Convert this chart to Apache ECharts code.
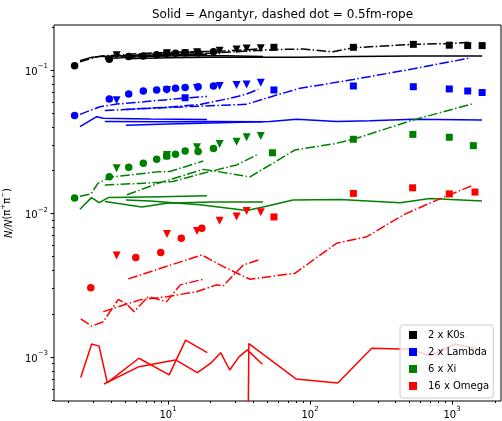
<!DOCTYPE html>
<html>
<head>
<meta charset="utf-8">
<script src="https://cdn.jsdelivr.net/npm/echarts@6.0.0/dist/echarts.min.js"></script>
<style>
  html, body { margin: 0; padding: 0; background: #fff; }
  #chart { width: 502px; height: 421px; }
</style>
</head>
<body>
<div id="chart"></div>
<script>
// axis limits and ticks (raw units, both axes are log10)
const xLimits = [1.575, 2213];
const yLimits = [4.93e-4, 0.206];
const xMajorTicks = [10, 100, 1000];
const yMajorTicks = [0.001, 0.01, 0.1];

const legendNames = ['2 x K0s', '2 x Lambda', '6 x Xi', '16 x Omega'];

// marker x positions
const circleX = [2.2, 3.86, 5.29, 6.70, 8.32, 9.79, 11.3, 13.2, 16.3, 20.9];
const omegaCircleX = [2.86, 5.93, 8.89, 12.4, 17.3];
const triangleX = [4.35, 9.84, 16.0, 23.1, 30.4, 35.8, 45.0];
const squareX = [13.2, 55.7, 202, 534, 957, 1290, 1630];
const xiSquareX = [9.8, 54.4, 202, 530, 957, 1413];
const omegaSquareX = [55.7, 202, 528, 957, 1452];

// K0s (black)
const kCircleY = [0.107, 0.119, 0.124, 0.125, 0.128, 0.131, 0.131, 0.132, 0.132, 0.134];
const kTriangleY = [0.127, 0.131, 0.133, 0.136, 0.139, 0.141, 0.142];
const kSquareY = [0.132, 0.144, 0.144, 0.151, 0.149, 0.148, 0.148];
const kSolidPpX = [2.40, 2.92, 3.32, 5.40, 8.79, 18.8];
const kSolidPpY = [0.116, 0.123, 0.124, 0.126, 0.128, 0.129];
const kSolidPpbX = [3.59, 6.5, 12, 25, 46.7];
const kSolidPpbY = [0.120, 0.124, 0.126, 0.126, 0.124];
const kSolidPbpbX = [5.06, 10, 20, 46.7, 85, 200, 530, 1630];
const kSolidPbpbY = [0.120, 0.122, 0.123, 0.123, 0.123, 0.124, 0.125, 0.125];
const kRopePpX = [2.40, 2.92, 3.32, 5.4, 8.79, 18.8];
const kRopePpY = [0.114, 0.121, 0.125, 0.129, 0.132, 0.135];
const kRopePpbX = [3.59, 6.5, 12, 25, 43.3];
const kRopePpbY = [0.123, 0.128, 0.132, 0.136, 0.140];
const kRopePbpbX = [5.06, 10, 20, 37.8, 58.2, 89.3, 145, 202, 534, 968, 1325];
const kRopePbpbY = [0.123, 0.127, 0.131, 0.136, 0.139, 0.140, 0.134, 0.143, 0.151, 0.153, 0.156];

// Lambda (blue)
const lCircleY = [0.0481, 0.0628, 0.0680, 0.0714, 0.0726, 0.0734, 0.0746, 0.0754, 0.0765, 0.0774];
const lTriangleY = [0.0615, 0.0726, 0.0750, 0.0774, 0.0786, 0.0794, 0.0815];
const lSquareY = [0.0641, 0.0726, 0.0774, 0.0765, 0.0738, 0.0714, 0.0697];
const lSolidPpX = [2.40, 3.15, 3.50, 7.47, 18.8];
const lSolidPpY = [0.0403, 0.0473, 0.0461, 0.0456, 0.0452];
const lSolidPpbX = [3.59, 8, 20, 46.7];
const lSolidPpbY = [0.0438, 0.0436, 0.0437, 0.0436];
const lSolidPbpbX = [5.06, 10, 20, 52.3, 80.5, 154, 265, 534, 1626];
const lSolidPbpbY = [0.0412, 0.0421, 0.0427, 0.0437, 0.0453, 0.0437, 0.0443, 0.0453, 0.0449];
const lRopePpX = [2.40, 3.32, 4.38, 6.78, 10.5, 18.8];
const lRopePpY = [0.0491, 0.0555, 0.0579, 0.0601, 0.0625, 0.0654];
const lRopePpbX = [3.59, 9.79, 16.8, 27.4, 35.8, 43.3];
const lRopePpbY = [0.0522, 0.0550, 0.0575, 0.0635, 0.0680, 0.0734];
const lRopePbpbX = [5.06, 13.6, 35.8, 58.2, 85.1, 202, 534, 1325];
const lRopePbpbY = [0.0531, 0.0555, 0.0577, 0.0670, 0.0746, 0.0859, 0.102, 0.121];

// Xi (green)
const xCircleY = [0.0128, 0.0180, 0.0210, 0.0224, 0.0239, 0.0252, 0.0259, 0.0273, 0.0270, 0.0284];
const xTriangleY = [0.0207, 0.0256, 0.0289, 0.0305, 0.0316, 0.0340, 0.0347];
const xSquareY = [0.0252, 0.0265, 0.0329, 0.0356, 0.0340, 0.0297];
const xSolidPpX = [2.40, 2.89, 3.28, 3.80, 5.40, 8.79, 13.2, 18.8];
const xSolidPpY = [0.0107, 0.0129, 0.0119, 0.0129, 0.0130, 0.0131, 0.0132, 0.0133];
const xSolidPpbX = [3.59, 6.53, 9.79, 20, 46.7];
const xSolidPpbY = [0.0121, 0.0111, 0.0118, 0.0120, 0.0120];
const xSolidPbpbX = [5.06, 7.47, 16.8, 35.9, 46.7, 75.9, 163, 431, 700, 1626];
const xSolidPbpbY = [0.0124, 0.0122, 0.0115, 0.0105, 0.0111, 0.0124, 0.0125, 0.0119, 0.0127, 0.0122];
const xRopePpX = [2.40, 2.87, 3.21, 3.91, 8.37, 10.3, 17.7];
const xRopePpY = [0.0132, 0.0137, 0.0162, 0.0179, 0.0195, 0.0196, 0.0232];
const xRopePpbX = [3.59, 6.35, 10.8, 17.7, 30.5, 42.1];
const xRopePpbY = [0.0158, 0.0162, 0.0167, 0.0191, 0.0218, 0.0256];
const xRopePbpbX = [5.14, 8.79, 17.7, 23.2, 37.8, 78.3, 145, 202, 534, 1377];
const xRopePbpbY = [0.0135, 0.0164, 0.0203, 0.0195, 0.0180, 0.0277, 0.0305, 0.0329, 0.0449, 0.0579];

// Omega (red)
const oCircleY = [0.00304, 0.00493, 0.00535, 0.00671, 0.00789];
const oTriangleY = [0.00510, 0.00718, 0.00755, 0.00890, 0.00951, 0.0104, 0.0102];
const oSquareY = [0.00946, 0.0138, 0.0151, 0.0137, 0.0141];
const oSolidPpX = [2.43, 2.90, 3.27, 3.74, 6.25, 10.2, 13.3, 18.9];
const oSolidPpY = [0.000718, 0.00123, 0.00119, 0.000662, 0.000979, 0.000749, 0.00131, 0.00107];
const oSolidPpbX = [3.54, 6.25, 11.3, 16.1, 20.0, 23.5, 27.2, 31.6, 36.2, 46.2];
const oSolidPpbY = [0.000648, 0.000855, 0.000953, 0.000777, 0.000904, 0.00107, 0.000811, 0.00100, 0.00112, 0.000889];
const oSolidPbpbX = [30.5, 37.1, 79.6, 157, 272, 506, 700, 1050, 1626];
const oSolidPbpbY = [0, 0.00124, 0.000703, 0.000659, 0.00115, 0.00113, 0.00102, 0.00123, 0.00112];
const oRopePpX = [2.43, 2.90, 3.50, 4.47, 5.12, 5.77, 7.26, 9.79, 12.2, 17.7];
const oRopePpY = [0.00184, 0.00164, 0.00176, 0.00252, 0.00233, 0.00207, 0.00263, 0.00243, 0.00318, 0.00348];
const oRopePpbX = [3.50, 6.35, 9.79, 15.9, 22.0, 24.5, 33.9, 43.3];
const oRopePpbY = [0.00207, 0.00250, 0.00263, 0.00285, 0.00318, 0.00313, 0.00438, 0.00474];
const oRopePbpbX = [5.25, 17.3, 24.5, 37.8, 78.3, 154, 251, 454, 738, 1377];
const oRopePbpbY = [0.00350, 0.00514, 0.00426, 0.00348, 0.00383, 0.00620, 0.00689, 0.00977, 0.0121, 0.0156];

const FONT = 'DejaVu Sans';
const BLACK = '#000000', BLUE = '#0000ff', GREEN = '#008000', RED = '#ff0000';
const DASHDOT = [9.6, 2.4, 1.5, 2.4];

// zero values are clipped far below the axis, like matplotlib does on log axes
const lg = v => Math.log10(Math.max(v, 1e-12));
const pairs = (xs, ys) => xs.map((x, i) => [lg(x), lg(ys[i])]);

function minorTicks(lo, hi) {
  const out = [];
  for (let d = Math.floor(Math.log10(lo)); d <= Math.ceil(Math.log10(hi)); d++) {
    for (let k = 2; k <= 9; k++) {
      const v = k * Math.pow(10, d);
      if (v >= lo && v <= hi) out.push(Math.log10(v));
    }
  }
  return out;
}

function powerLabel(v) {
  const e = Math.round(v);
  return '{b|10}{s|' + (e < 0 ? '\u2212' + (-e) : e) + '}';
}

const labelRich = {
  b: { fontFamily: FONT, fontSize: 10, color: '#000', lineHeight: 14, verticalAlign: 'bottom' },
  s: { fontFamily: FONT, fontSize: 7, color: '#000', lineHeight: 8, verticalAlign: 'top' }
};

const series = [];

function addLine(xs, ys, color, dashed) {
  series.push({
    type: 'line',
    data: pairs(xs, ys),
    symbol: 'none',
    silent: true,
    z: 2,
    clip: true,
    lineStyle: { color: color, width: 1.5, type: dashed ? DASHDOT : 'solid' },
    emphasis: { disabled: true }
  });
}

function addMarkers(name, xs, ys, color, kind) {
  const s = {
    name: name,
    type: 'scatter',
    data: pairs(xs, ys),
    silent: true,
    z: 3,
    itemStyle: { color: color, opacity: 1 },
    emphasis: { disabled: true }
  };
  if (kind === 'circle') { s.symbol = 'circle'; s.symbolSize = 7.5; }
  if (kind === 'down') { s.symbol = 'triangle'; s.symbolSize = 8; s.symbolRotate = 180; }
  if (kind === 'square') { s.symbol = 'rect'; s.symbolSize = 7; }
  series.push(s);
}

// Angantyr (solid)
addLine(kSolidPpX, kSolidPpY, BLACK, false);
addLine(kSolidPpbX, kSolidPpbY, BLACK, false);
addLine(kSolidPbpbX, kSolidPbpbY, BLACK, false);
addLine(lSolidPpX, lSolidPpY, BLUE, false);
addLine(lSolidPpbX, lSolidPpbY, BLUE, false);
addLine(lSolidPbpbX, lSolidPbpbY, BLUE, false);
addLine(xSolidPpX, xSolidPpY, GREEN, false);
addLine(xSolidPpbX, xSolidPpbY, GREEN, false);
addLine(xSolidPbpbX, xSolidPbpbY, GREEN, false);
addLine(oSolidPpX, oSolidPpY, RED, false);
addLine(oSolidPpbX, oSolidPpbY, RED, false);
addLine(oSolidPbpbX, oSolidPbpbY, RED, false);

// 0.5fm rope (dash dot)
addLine(kRopePpX, kRopePpY, BLACK, true);
addLine(kRopePpbX, kRopePpbY, BLACK, true);
addLine(kRopePbpbX, kRopePbpbY, BLACK, true);
addLine(lRopePpX, lRopePpY, BLUE, true);
addLine(lRopePpbX, lRopePpbY, BLUE, true);
addLine(lRopePbpbX, lRopePbpbY, BLUE, true);
addLine(xRopePpX, xRopePpY, GREEN, true);
addLine(xRopePpbX, xRopePpbY, GREEN, true);
addLine(xRopePbpbX, xRopePbpbY, GREEN, true);
addLine(oRopePpX, oRopePpY, RED, true);
addLine(oRopePpbX, oRopePpbY, RED, true);
addLine(oRopePbpbX, oRopePbpbY, RED, true);

// data points
addMarkers('k-pp', circleX, kCircleY, BLACK, 'circle');
addMarkers('k-ppb', triangleX, kTriangleY, BLACK, 'down');
addMarkers(legendNames[0], squareX, kSquareY, BLACK, 'square');
addMarkers('l-pp', circleX, lCircleY, BLUE, 'circle');
addMarkers('l-ppb', triangleX, lTriangleY, BLUE, 'down');
addMarkers(legendNames[1], squareX, lSquareY, BLUE, 'square');
addMarkers('x-pp', circleX, xCircleY, GREEN, 'circle');
addMarkers('x-ppb', triangleX, xTriangleY, GREEN, 'down');
addMarkers(legendNames[2], xiSquareX, xSquareY, GREEN, 'square');
addMarkers('o-pp', omegaCircleX, oCircleY, RED, 'circle');
addMarkers('o-ppb', triangleX, oTriangleY, RED, 'down');
addMarkers(legendNames[3], omegaSquareX, oSquareY, RED, 'square');

const tickStyle = { color: '#000', width: 1 };

const chart = echarts.init(document.getElementById('chart'));
chart.setOption({
  animation: false,
  backgroundColor: '#fff',
  title: {
    text: 'Solid = Angantyr, dashed dot = 0.5fm-rope',
    left: 277.5,
    top: 4,
    textAlign: 'center',
    textStyle: { fontFamily: FONT, fontSize: 12, fontWeight: 'normal', color: '#000' }
  },
  grid: {
    left: 54, right: 1, top: 25, bottom: 20,
    outerBoundsMode: 'none',
    containLabel: false,
    show: true, borderColor: '#000', borderWidth: 1, backgroundColor: 'transparent'
  },
  legend: {
    data: legendNames,
    orient: 'vertical',
    left: 400,
    top: 325,
    padding: [4, 4, 6, 9],
    itemWidth: 8,
    itemHeight: 8,
    itemGap: 5,
    icon: 'rect',
    selectedMode: false,
    backgroundColor: 'rgba(255,255,255,0.8)',
    borderColor: '#cccccc',
    borderWidth: 1,
    borderRadius: 3,
    textStyle: { fontFamily: FONT, fontSize: 10, color: '#000', lineHeight: 12, padding: [0, 0, 0, 6] }
  },
  xAxis: [{
    type: 'value',
    min: lg(xLimits[0]),
    max: lg(xLimits[1]),
    position: 'bottom',
    axisLine: { show: false, onZero: false },
    splitLine: { show: false },
    axisTick: { show: true, customValues: xMajorTicks.map(lg), length: 3.5, lineStyle: tickStyle },
    axisLabel: { customValues: xMajorTicks.map(lg), formatter: powerLabel, rich: labelRich, margin: 5 }
  }, {
    type: 'value',
    min: lg(xLimits[0]),
    max: lg(xLimits[1]),
    position: 'bottom',
    axisLine: { show: false, onZero: false },
    splitLine: { show: false },
    axisTick: { show: true, customValues: minorTicks(xLimits[0], xLimits[1]), length: 2, lineStyle: tickStyle },
    axisLabel: { show: false }
  }],
  yAxis: [{
    type: 'value',
    min: lg(yLimits[0]),
    max: lg(yLimits[1]),
    position: 'left',
    name: '{i|N/N}(\u03c0{s|+}\u03c0{s|\u2212})',
    nameLocation: 'middle',
    nameGap: 29,
    nameTextStyle: {
      fontFamily: FONT, fontSize: 10, color: '#000',
      rich: {
        i: { fontFamily: FONT, fontSize: 10, fontStyle: 'italic', color: '#000', lineHeight: 14, verticalAlign: 'bottom' },
        s: { fontFamily: FONT, fontSize: 7, color: '#000', lineHeight: 8, verticalAlign: 'top' }
      }
    },
    axisLine: { show: false, onZero: false },
    splitLine: { show: false },
    axisTick: { show: true, customValues: yMajorTicks.map(lg), length: 3.5, lineStyle: tickStyle },
    axisLabel: { customValues: yMajorTicks.map(lg), formatter: powerLabel, rich: labelRich, margin: 6 }
  }, {
    type: 'value',
    min: lg(yLimits[0]),
    max: lg(yLimits[1]),
    position: 'left',
    axisLine: { show: false, onZero: false },
    splitLine: { show: false },
    axisTick: { show: true, customValues: minorTicks(yLimits[0], yLimits[1]), length: 2, lineStyle: tickStyle },
    axisLabel: { show: false }
  }],
  series: series
});
</script>
</body>
</html>
